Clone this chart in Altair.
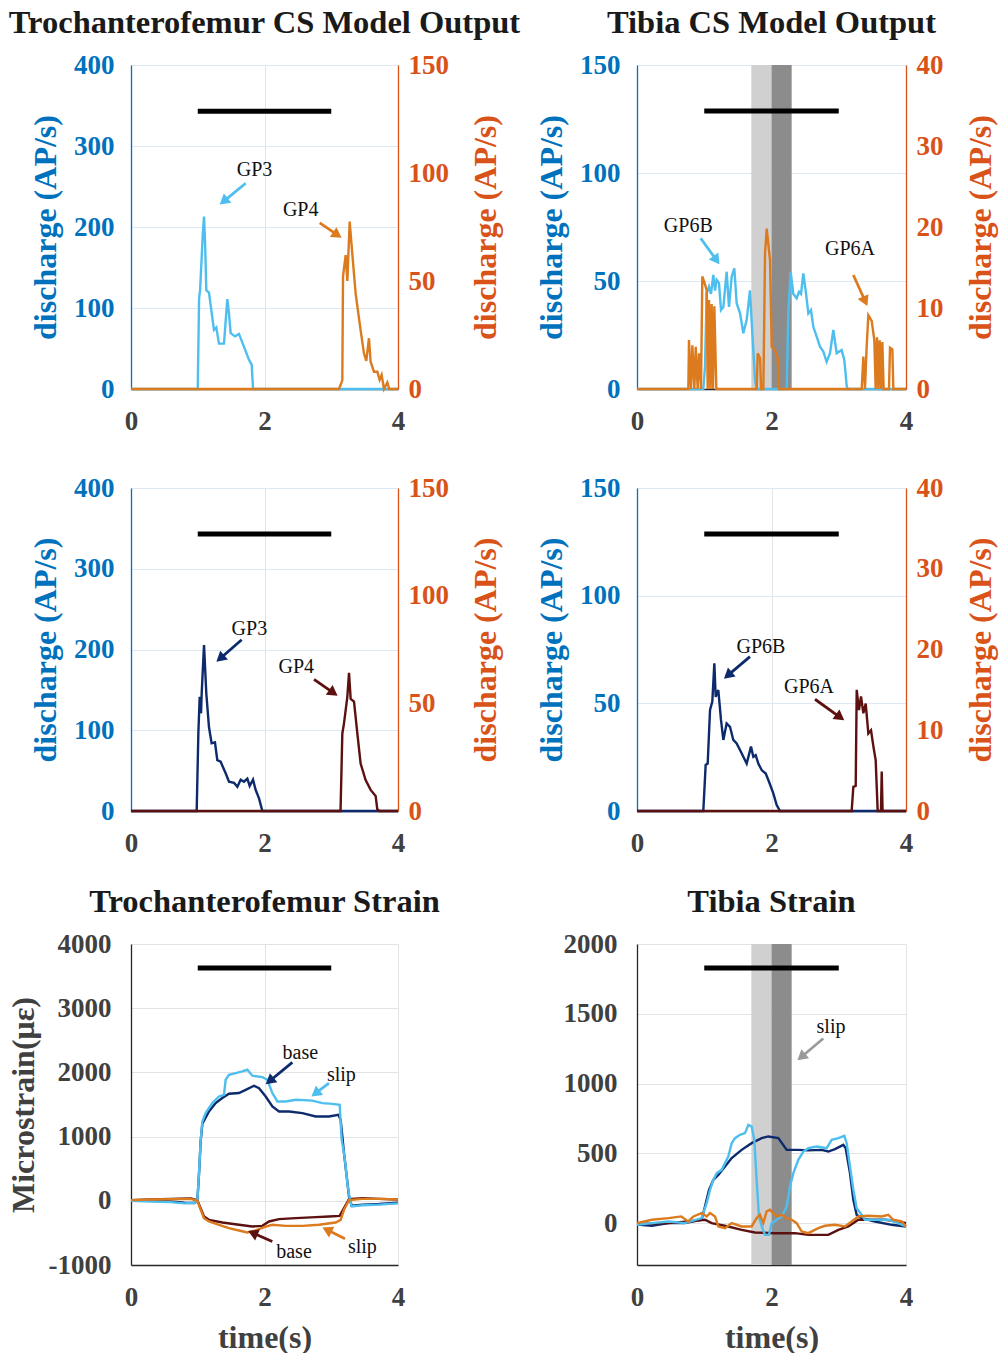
import math
import altair as alt
import pandas as pd

# ---------------- data ----------------
# each trace: (time in s, value)
# CS model output, trochanterofemur
tf_model_gp3 = [(0, 0), (1.00, 0), (1.02, 112), (1.035, 122), (1.075, 190), (1.094, 213), (1.11, 180),
                (1.128, 122), (1.168, 119), (1.243, 73), (1.278, 76), (1.318, 56), (1.393, 56), (1.443, 111),
                (1.468, 93), (1.493, 69), (1.558, 65), (1.618, 68), (1.693, 52), (1.768, 36), (1.808, 30),
                (1.828, 0), (4.0, 0)]
tf_model_gp4 = [(0, 0), (3.116, 0), (3.166, 4), (3.176, 52), (3.216, 62), (3.241, 50), (3.276, 77.5),
                (3.306, 66), (3.366, 44), (3.441, 27), (3.49, 16.5), (3.525, 13), (3.565, 23.5), (3.59, 12.6),
                (3.64, 8), (3.69, 8), (3.725, 4.2), (3.755, 6.5), (3.79, 0), (3.84, 3), (3.87, 0), (4.0, 0)]

# CS model output, tibia
tibia_model_gp6b = [(0, 0), (0.986, 0), (1.011, 10.3), (1.036, 44.3), (1.071, 47.4), (1.100, 44), (1.135, 52.8),
                    (1.160, 45.6), (1.185, 50.5), (1.219, 49), (1.249, 36.6), (1.284, 38), (1.333, 54.3),
                    (1.368, 38), (1.408, 52), (1.447, 55.9), (1.482, 39.7), (1.532, 35), (1.581, 25.8),
                    (1.631, 32), (1.680, 45.6), (1.715, 25.8), (1.755, 4.2), (1.780, 0), (2.226, 0),
                    (2.250, 35), (2.285, 54.3), (2.324, 44), (2.374, 42), (2.409, 45), (2.439, 44),
                    (2.473, 53.5), (2.508, 45.6), (2.548, 35), (2.587, 36.6), (2.622, 28.8), (2.672, 24.2),
                    (2.721, 19.6), (2.771, 17.3), (2.820, 12.6), (2.870, 16.6), (2.919, 27.3), (2.969, 16.6),
                    (3.004, 17.3), (3.043, 18), (3.083, 13.4), (3.118, 1.5), (3.13, 0), (4.0, 0)]
tibia_model_gp6a = [(0, 0), (0.763, 0), (0.773, 6.05), (0.803, 0), (0.823, 5.4), (0.853, 0), (0.873, 5.2),
                    (0.902, 0), (0.922, 4.4), (0.952, 0), (0.971, 13.9), (1.001, 13.2), (1.036, 12.2),
                    (1.051, 0), (1.071, 11), (1.091, 0), (1.110, 10.5), (1.130, 0), (1.150, 10.2), (1.180, 0),
                    (1.780, 0), (1.795, 4.4), (1.830, 3.8), (1.845, 0), (1.879, 0), (1.904, 16.8),
                    (1.929, 19.8), (1.978, 15.9), (2.003, 5.2), (2.052, 4.8), (2.092, 3.8), (2.112, 0),
                    (3.341, 0), (3.366, 4.0), (3.390, 0), (3.415, 5.2), (3.440, 9.1), (3.490, 8.4),
                    (3.529, 6.05), (3.549, 0), (3.569, 6.4), (3.589, 0), (3.609, 6), (3.629, 0), (3.648, 5.8),
                    (3.668, 0), (3.747, 0), (3.762, 5.1), (3.797, 4.9), (3.812, 0), (4.0, 0)]

# recorded discharge, trochanterofemur
tf_rec_gp3 = [(0, 0), (0.984, 0), (1.009, 96), (1.029, 141.5), (1.049, 121), (1.059, 145.8), (1.094, 205.6),
              (1.128, 145.8), (1.168, 104), (1.208, 83.8), (1.258, 85), (1.293, 63), (1.343, 61), (1.418, 46.7),
              (1.468, 36.3), (1.543, 35), (1.593, 30), (1.643, 38.8), (1.693, 36.3), (1.743, 40), (1.778, 31),
              (1.828, 38.8), (1.868, 26), (1.918, 15.7), (1.968, 0), (4.0, 0)]
tf_rec_gp4 = [(0, 0), (3.139, 0), (3.166, 36), (3.191, 40.7), (3.241, 53), (3.266, 64.2), (3.291, 52.1),
              (3.341, 50.8), (3.391, 36), (3.440, 22), (3.515, 14.4), (3.590, 9.8), (3.665, 7), (3.69, 0.8),
              (3.72, 0), (4.0, 0)]

# recorded discharge, tibia
tibia_rec_gp6b = [(0, 0), (0.986, 0), (1.021, 21.4), (1.051, 22), (1.086, 46.9), (1.120, 50.8), (1.150, 68.6),
                  (1.170, 53), (1.209, 56.2), (1.249, 42.3), (1.284, 33), (1.333, 40.7), (1.383, 39.1),
                  (1.432, 33), (1.482, 31.4), (1.532, 28.3), (1.581, 25.2), (1.631, 22), (1.695, 29.9),
                  (1.730, 25.2), (1.765, 25.9), (1.804, 22), (1.854, 19), (1.914, 17.4), (1.963, 13.6),
                  (2.027, 8.2), (2.077, 2.8), (2.127, 0), (4.0, 0)]
tibia_rec_gp6a = [(0, 0), (3.192, 0), (3.217, 3.0), (3.252, 3.1), (3.267, 15.0), (3.301, 12.5), (3.331, 14.2),
                  (3.366, 12.1), (3.401, 13.3), (3.440, 9.6), (3.480, 10), (3.515, 8.0), (3.549, 6.3),
                  (3.579, 0), (3.628, 0), (3.639, 4.9), (3.652, 0), (4.0, 0)]

# strain, trochanterofemur (microstrain)
tf_strain_base_dorsal = [(0, 10), (0.3, 0), (0.6, -10), (0.8, -30), (0.95, -35), (0.994, 0), (1.019, 420),
                         (1.044, 930), (1.069, 1200), (1.168, 1391), (1.268, 1522), (1.368, 1600), (1.468, 1667),
                         (1.618, 1678), (1.718, 1729), (1.843, 1792), (1.918, 1755), (2.018, 1625),
                         (2.118, 1469), (2.218, 1391), (2.368, 1391), (2.568, 1366), (2.767, 1313),
                         (2.967, 1313), (3.106, 1340), (3.141, 1262), (3.191, 743), (3.266, 68), (3.306, -75),
                         (3.466, -60), (3.716, -50), (4.0, -30)]
tf_strain_slip_dorsal = [(0, 0), (0.3, -10), (0.6, -20), (0.8, -40), (0.95, -30), (0.994, 0), (1.019, 430),
                         (1.044, 950), (1.069, 1235), (1.118, 1366), (1.218, 1522), (1.318, 1625),
                         (1.393, 1651), (1.418, 1885), (1.468, 1963), (1.568, 1990), (1.668, 2015),
                         (1.743, 2041), (1.818, 1948), (1.968, 1927), (2.043, 1885), (2.118, 1678),
                         (2.193, 1547), (2.318, 1547), (2.468, 1574), (2.717, 1560), (2.867, 1522),
                         (3.017, 1510), (3.126, 1496), (3.156, 950), (3.191, 743), (3.216, 534), (3.241, 276),
                         (3.276, 42), (3.306, -89), (3.466, -70), (3.716, -60), (4.0, -40)]
tf_strain_base_ventral = [(0, 10), (0.3, 20), (0.6, 30), (0.9, 35), (0.994, 10), (1.044, -120), (1.094, -245),
                          (1.168, -296), (1.368, -338), (1.618, -374), (1.818, -400), (1.968, -390),
                          (2.068, -322), (2.218, -286), (2.468, -270), (2.767, -255), (2.967, -245),
                          (3.126, -234), (3.191, -115), (3.266, 25), (3.466, 40), (3.716, 30), (4.0, 20)]
tf_strain_slip_ventral = [(0, 10), (0.3, 20), (0.6, 25), (0.9, 30), (0.994, 0), (1.044, -140), (1.094, -270),
                          (1.168, -322), (1.318, -374), (1.468, -426), (1.618, -462), (1.743, -493),
                          (1.868, -462), (1.993, -410), (2.118, -374), (2.318, -390), (2.568, -390),
                          (2.817, -374), (3.066, -338), (3.141, -296), (3.191, -140), (3.266, 10), (3.466, 30),
                          (3.716, 30), (4.0, 20)]

# strain, tibia (microstrain)
tibia_strain_base_dorsal = [(0, -10), (0.22, -19), (0.47, 0), (0.71, 0), (0.96, 24), (1.011, 119), (1.071, 239),
                            (1.135, 310), (1.209, 346), (1.309, 406), (1.408, 466), (1.556, 525), (1.705, 573),
                            (1.854, 609), (1.953, 621), (2.102, 609), (2.226, 525), (2.399, 525), (2.548, 521),
                            (2.746, 525), (2.845, 513), (2.944, 530), (3.068, 561), (3.103, 537), (3.167, 358),
                            (3.217, 167), (3.266, 60), (3.341, 36), (3.539, 12), (3.787, -12), (4.0, -24)]
tibia_strain_slip_dorsal = [(0, -12), (0.22, 0), (0.47, 12), (0.71, 0), (0.96, 36), (1.036, 143), (1.086, 239),
                            (1.135, 310), (1.185, 358), (1.259, 382), (1.309, 430), (1.358, 478), (1.408, 573),
                            (1.457, 609), (1.532, 633), (1.606, 645), (1.656, 704), (1.705, 692), (1.745, 597),
                            (1.779, 310), (1.814, 48), (1.854, -24), (1.903, -84), (1.963, -84), (2.002, 0),
                            (2.077, 24), (2.151, 48), (2.226, 119), (2.275, 263), (2.325, 358), (2.399, 454),
                            (2.473, 513), (2.548, 537), (2.672, 549), (2.820, 537), (2.895, 597), (2.994, 609),
                            (3.083, 626), (3.118, 573), (3.167, 406), (3.217, 239), (3.266, 107), (3.341, 60),
                            (3.390, 24), (3.539, 24), (3.737, 24), (3.886, 0), (4.0, -24)]
tibia_strain_base_ventral = [(0, -5), (0.47, 0), (0.76, 12), (1.011, 24), (1.110, 0), (1.358, -24),
                             (1.556, -48), (1.755, -67), (2.052, -72), (2.349, -72), (2.548, -84), (2.845, -84),
                             (2.994, -48), (3.142, -24), (3.291, 24), (3.440, 24), (3.688, 24), (3.886, 12),
                             (4.0, 0)]
tibia_strain_slip_ventral = [(0, 0), (0.22, 24), (0.47, 36), (0.66, 48), (0.76, 12), (0.84, 48), (0.96, 72),
                             (1.036, 48), (1.086, 72), (1.160, 48), (1.209, -24), (1.309, -36), (1.408, 0),
                             (1.556, -24), (1.705, -24), (1.779, 36), (1.829, 60), (1.878, 0), (1.928, 84),
                             (1.978, 96), (2.027, 72), (2.077, 48), (2.151, 60), (2.226, 36), (2.300, 24),
                             (2.374, 0), (2.449, -60), (2.548, -72), (2.696, -36), (2.796, -19), (2.944, -12),
                             (3.093, -24), (3.192, 12), (3.291, 48), (3.440, 53), (3.638, 48), (3.737, 60),
                             (3.812, 24), (3.935, 12), (4.0, -24)]

# stimulus window (black bar) and slip phases (shaded)
stim_window = (1.0, 3.0)
stim_level = {"tf_model": 343, "tibia_model": 128.7, "tf_rec": 343, "tibia_rec": 128.6,
              "tf_strain": 3626, "tibia_strain": 1828}
slip_phases = [("early", 1.7, 2.0), ("late", 2.0, 2.3)]

# annotations: label, text (t, v), arrow tail (t, v), arrow tip (t, v), series
notes_tf_model = [("GP3", 1.850, 270, 1.718, 254, 1.318, 227, "light"),
                  ("GP4", 2.542, 221, 2.827, 205, 3.166, 186, "orange")]
notes_tibia_model = [("GP6B", 0.763, 75.6, 0.947, 69.8, 1.234, 57.4, "light"),
                     ("GP6A", 3.167, 65.0, 3.217, 52.8, 3.43, 38.1, "orange")]
notes_tf_rec = [("GP3", 1.773, 226, 1.658, 212, 1.269, 184, "navy"),
                ("GP4", 2.477, 178, 2.742, 163, 3.106, 142, "maroon")]
notes_tibia_rec = [("GP6B", 1.844, 76.3, 1.680, 71.7, 1.283, 61.2, "navy"),
                   ("GP6A", 2.558, 57.4, 2.647, 51.9, 3.093, 41.9, "maroon")]
notes_tf_strain = [("base", 2.537, 2301, 2.417, 2155, 2.008, 1807, "navy"),
                   ("slip", 3.151, 1963, 2.966, 1834, 2.692, 1616, "light"),
                   ("base", 2.442, -790, 2.117, -634, 1.743, -463, "maroon"),
                   ("slip", 3.466, -712, 3.206, -592, 2.857, -410, "orange")]
notes_tibia_strain = [("slip", 2.885, 1402, 2.770, 1323, 2.375, 1163, "gray")]

# ---------------- style ----------------
SERIF = "Liberation Serif"
BLUE = "#0072BD"
RED_AX = "#D95319"
INK = "#404040"
DARK = "#262626"
GRID_B = "#DCE8F4"
GRID_G = "#E3E3E3"
SERIES = {"light": "#4DBEEE", "orange": "#DC7A1E", "navy": "#0C2A6C", "maroon": "#5C1010",
          "gray": "#9A9A9A"}
PHASE_COL = {"early": "#D0D0D0", "late": "#8C8C8C"}
T_MAX = 4
LW = 2.4


def frame(pairs):
    return pd.DataFrame(pairs, columns=["t", "v"])


def x_axis(title):
    return alt.Axis(title=title, values=[0, 2, 4], labelColor=INK, titleColor=INK, domainColor=DARK,
                    gridColor=GRID_G, grid=True, labelFlush=False, labelPadding=19, titlePadding=12)


class Frame:
    """Shared x / left-y encodings for all layers of one panel."""

    def __init__(self, w, h, ydom, x_ax, y_ax):
        self.w, self.h, self.ydom = w, h, ydom
        self.xs = alt.Scale(domain=[0, T_MAX], nice=False, zero=False)
        self.ys = alt.Scale(domain=ydom, nice=False, zero=False)
        self.x_ax, self.y_ax = x_ax, y_ax

    def x(self, field="t"):
        return alt.X(f"{field}:Q", scale=self.xs, axis=self.x_ax)

    def y(self, field="v"):
        return alt.Y(f"{field}:Q", scale=self.ys, axis=self.y_ax)


def extras(fr, key, shaded):
    """Shaded slip phases and the stimulus bar."""
    layers = []
    if shaded:
        ph = pd.DataFrame([{"phase": p, "t": a, "t2": b, "v": fr.ydom[0], "v2": fr.ydom[1]}
                           for p, a, b in slip_phases])
        layers.append(
            alt.Chart(ph).mark_rect().encode(
                x=fr.x("t"), x2="t2:Q", y=fr.y("v"), y2="v2:Q",
                color=alt.Color("phase:N", scale=alt.Scale(domain=list(PHASE_COL), range=list(PHASE_COL.values())),
                                legend=None)))
    bar = pd.DataFrame([{"t": stim_window[0], "t2": stim_window[1], "v": stim_level[key]}])
    layers.append(alt.Chart(bar).mark_rule(color="black", strokeWidth=5, strokeCap="butt").encode(
        x=fr.x("t"), x2="t2:Q", y=fr.y("v")))
    return layers


def note_layers(fr, notes):
    sx = fr.w / T_MAX
    sy = fr.h / (fr.ydom[1] - fr.ydom[0])
    txt, shaft, head = [], [], []
    for label, tt, tv, t0, v0, t1, v1, series in notes:
        dx = (t1 - t0) * sx
        dy = (v1 - v0) * sy
        length = math.hypot(dx, dy)
        back = 6.0 / length
        ht = t1 - (t1 - t0) * back
        hv = v1 - (v1 - v0) * back
        ang = math.degrees(math.atan2(dx, dy)) % 360
        col = SERIES[series]
        txt.append({"label": label, "t": tt, "v": tv})
        shaft.append({"t": t0, "v": v0, "t2": ht, "v2": hv, "c": col})
        head.append({"t": ht, "v": hv, "ang": ang, "c": col})
    return [
        alt.Chart(pd.DataFrame(shaft)).mark_rule(strokeWidth=2.8).encode(
            x=fr.x("t"), x2="t2:Q", y=fr.y("v"), y2="v2:Q", color=alt.Color("c:N", scale=None)),
        alt.Chart(pd.DataFrame(head)).mark_point(shape="triangle-up", filled=True, size=140, opacity=1).encode(
            x=fr.x("t"), y=fr.y("v"), angle=alt.Angle("ang:Q", scale=None), color=alt.Color("c:N", scale=None)),
        alt.Chart(pd.DataFrame(txt)).mark_text(font=SERIF, fontSize=20, color="#111111").encode(
            x=fr.x("t"), y=fr.y("v"), text="label:N"),
    ]


def title_params(text):
    return alt.TitleParams(text=text, font=SERIF, fontSize=32.5, fontWeight="bold", color="#1A1A1A",
                           anchor="middle", frame="group", offset=12)


def discharge_panel(w, h, key, lo, hi, lo_col, hi_col, ldom, lvals, rdom, rvals, notes, title=None,
                    shaded=False):
    left_axis = alt.Axis(title="discharge (AP/s)", values=lvals, labelColor=BLUE, titleColor=BLUE,
                         domainColor=BLUE, gridColor=GRID_B, grid=True, labelPadding=17, titlePadding=11)
    right_axis = alt.Axis(orient="right", title="discharge (AP/s)", values=rvals, labelColor=RED_AX,
                          titleColor=RED_AX, domainColor=RED_AX, grid=False, labelPadding=10, titlePadding=22,
                          titleAngle=270, titleBaseline="top")
    fr = Frame(w, h, ldom, x_axis(None), left_axis)
    layers = extras(fr, key, shaded)
    layers.append(alt.Chart(frame(lo)).mark_line(color=SERIES[lo_col], strokeWidth=LW).encode(
        x=fr.x(), y=fr.y()))
    layers += note_layers(fr, notes)
    left = alt.layer(*layers)
    right = alt.Chart(frame(hi)).mark_line(color=SERIES[hi_col], strokeWidth=LW).encode(
        x=fr.x(), y=alt.Y("v:Q", scale=alt.Scale(domain=rdom, nice=False, zero=False), axis=right_axis))
    p = alt.layer(left, right).resolve_scale(y="independent").properties(width=w, height=h)
    if title:
        p = p.properties(title=title_params(title))
    return p


def strain_panel(w, h, key, traces, ydom, yvals, notes, title, ytitle=None, shaded=False):
    y_axis = alt.Axis(title=ytitle, values=yvals, labelColor=INK, titleColor=INK, domainColor=DARK,
                      gridColor=GRID_G, grid=True, labelPadding=20, titlePadding=8,
                      labelExpr="'' + datum.value")
    fr = Frame(w, h, ydom, x_axis("time(s)"), y_axis)
    layers = extras(fr, key, shaded)
    for pairs, series in traces:
        layers.append(alt.Chart(frame(pairs)).mark_line(color=SERIES[series], strokeWidth=LW).encode(
            x=fr.x(), y=fr.y()))
    layers += note_layers(fr, notes)
    return alt.layer(*layers).properties(width=w, height=h, title=title_params(title))


def spacer(w, h):
    return alt.Chart(pd.DataFrame({"t": [0]})).mark_point(opacity=0).encode(
        x=alt.X("t:Q", axis=None), y=alt.Y("t:Q", axis=None)).properties(width=w, height=h)


WL, WR = 267, 269
H1, H2, H3 = 324, 323, 321
GAP_COL, GAP_12, GAP_23 = 239, 99, 133

p1 = discharge_panel(WL, H1, "tf_model", tf_model_gp3, tf_model_gp4, "light", "orange",
                     [0, 400], [0, 100, 200, 300, 400], [0, 150], [0, 50, 100, 150], notes_tf_model,
                     title="Trochanterofemur CS Model Output")
p2 = discharge_panel(WR, H1, "tibia_model", tibia_model_gp6b, tibia_model_gp6a, "light", "orange",
                     [0, 150], [0, 50, 100, 150], [0, 40], [0, 10, 20, 30, 40], notes_tibia_model,
                     title="Tibia CS Model Output", shaded=True)
p3 = discharge_panel(WL, H2, "tf_rec", tf_rec_gp3, tf_rec_gp4, "navy", "maroon",
                     [0, 400], [0, 100, 200, 300, 400], [0, 150], [0, 50, 100, 150], notes_tf_rec)
p4 = discharge_panel(WR, H2, "tibia_rec", tibia_rec_gp6b, tibia_rec_gp6a, "navy", "maroon",
                     [0, 150], [0, 50, 100, 150], [0, 40], [0, 10, 20, 30, 40], notes_tibia_rec)
p5 = strain_panel(WL, H3, "tf_strain",
                  [(tf_strain_base_dorsal, "navy"), (tf_strain_base_ventral, "maroon"),
                   (tf_strain_slip_dorsal, "light"), (tf_strain_slip_ventral, "orange")],
                  [-1000, 4000], [-1000, 0, 1000, 2000, 3000, 4000], notes_tf_strain,
                  "Trochanterofemur Strain", ytitle="Microstrain(με)")
p6 = strain_panel(WR, H3, "tibia_strain",
                  [(tibia_strain_base_dorsal, "navy"), (tibia_strain_base_ventral, "maroon"),
                   (tibia_strain_slip_dorsal, "light"), (tibia_strain_slip_ventral, "orange")],
                  [-300, 2000], [0, 500, 1000, 1500, 2000], notes_tibia_strain,
                  "Tibia Strain", shaded=True)

grid = alt.concat(
    p1, p2,
    spacer(10, GAP_12), spacer(10, GAP_12),
    p3, p4,
    spacer(10, GAP_23), spacer(10, GAP_23),
    p5, p6,
    columns=2, bounds="flush", spacing={"row": 0, "column": GAP_COL},
)

chart = (
    grid
    .properties(padding={"left": 7, "top": 6, "right": 4, "bottom": 0})
    .configure_view(strokeWidth=0)
    .configure_axis(labelFont=SERIF, titleFont=SERIF, labelFontWeight="bold", titleFontWeight="bold",
                    labelFontSize=27, titleFontSize=32, ticks=False, tickSize=0, domainWidth=1.3,
                    gridWidth=1)
)

chart.save("out.html", embed_options={"renderer": "svg", "actions": False})
